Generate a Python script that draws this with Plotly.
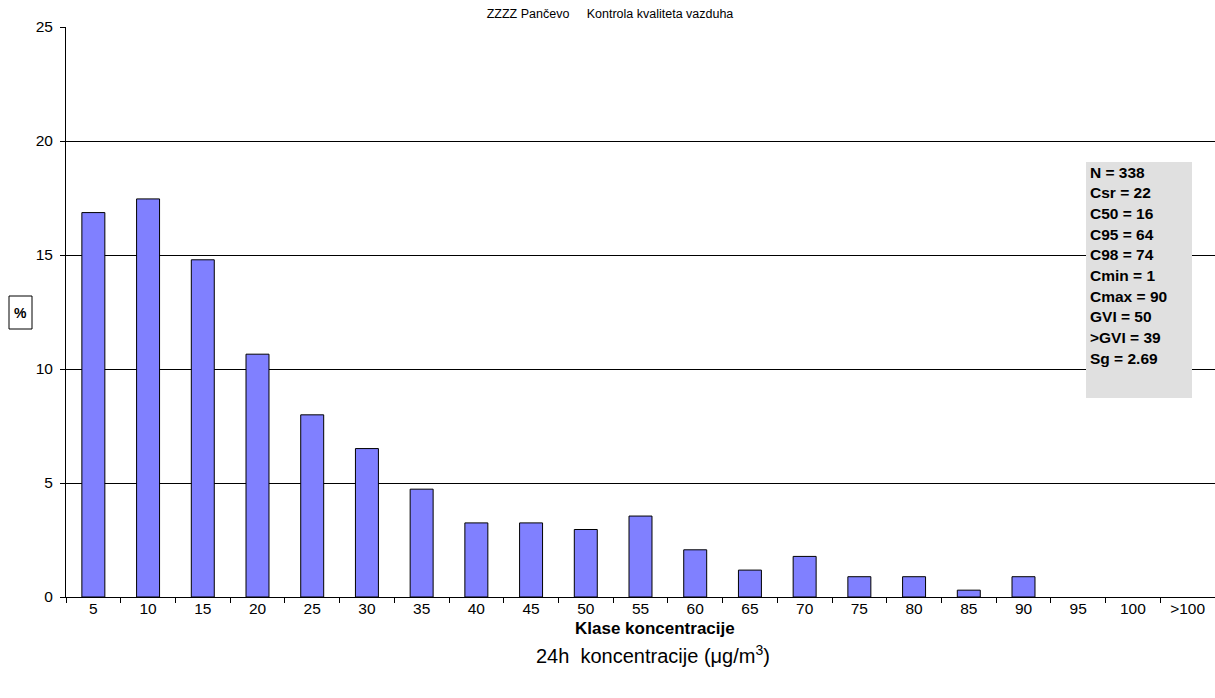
import plotly.graph_objects as go

categories = ["5", "10", "15", "20", "25", "30", "35", "40", "45", "50", "55",
              "60", "65", "70", "75", "80", "85", "90", "95", "100", ">100"]
percent = [16.86, 17.46, 14.79, 10.65, 7.99, 6.51, 4.73, 3.25, 3.25, 2.96, 3.55,
           2.07, 1.18, 1.78, 0.89, 0.89, 0.30, 0.89, 0, 0, 0]
stats_lines = ["N = 338", "Csr = 22", "C50 = 16", "C95 = 64", "C98 = 74",
               "Cmin = 1", "Cmax = 90", "GVI = 50", ">GVI = 39", "Sg = 2.69"]
title_text = "ZZZZ Pančevo     Kontrola kvaliteta vazduha"
y_ticks = [0, 5, 10, 15, 20, 25]

FONT = "Arial, Liberation Sans, sans-serif"
W, H = 1215, 698
L, R, T, B = 66, 0, 27, 101
PW = W - L - R
PH = H - T - B

def px_x(p):
    return (p - L) / PW

def px_y(p):
    return (H - B - p) / PH

line_widths = [1 if v > 0 else 0 for v in percent]

fig = go.Figure()
fig.add_trace(go.Bar(
    x=categories, y=percent,
    marker=dict(color="#8080FF", line=dict(color="black", width=line_widths)),
    width=0.42,
))

fig.update_layout(
    width=W, height=H,
    margin=dict(l=L, r=R, t=T, b=B),
    paper_bgcolor="white", plot_bgcolor="white",
    showlegend=False,
    font=dict(family=FONT, color="black", size=15),
    title=dict(text=title_text, x=610 / W, xanchor="center", y=1 - 14 / H,
               yanchor="middle", font=dict(size=12.5, family=FONT)),
)
fig.update_xaxes(
    type="category", showgrid=False, showline=True, linecolor="black", linewidth=1,
    ticks="outside", tickson="boundaries", ticklen=5, tickcolor="black",
    tickfont=dict(size=15.5), range=[-0.5, len(categories) - 0.5],
    ticklabelstandoff=-3,
)
fig.update_yaxes(
    range=[0, 25], tickvals=y_ticks, showgrid=True, gridcolor="black", gridwidth=1,
    showline=True, linecolor="black", linewidth=1, ticks="outside", ticklen=5,
    tickcolor="black", tickfont=dict(size=15.5), zeroline=False,
    ticklabelstandoff=4,
)

# stats box
fig.add_shape(type="rect", xref="paper", yref="paper",
              x0=px_x(1086), x1=px_x(1192), y0=px_y(398), y1=px_y(162),
              fillcolor="#E0E0E0", line=dict(width=0), layer="above")
for i, line in enumerate(stats_lines):
    fig.add_annotation(text="<b>" + line + "</b>", xref="paper", yref="paper",
                       x=px_x(1088), y=px_y(172 + i * 20.7), xanchor="left",
                       yanchor="middle", showarrow=False,
                       font=dict(size=15.5, family=FONT))

# y title box
fig.add_shape(type="rect", xref="paper", yref="paper",
              x0=px_x(9), x1=px_x(32), y0=px_y(329), y1=px_y(296),
              fillcolor="white", line=dict(color="black", width=1))
fig.add_annotation(text="<b>%</b>", xref="paper", yref="paper",
                   x=px_x(20.5), y=px_y(312.5), xanchor="center", yanchor="middle",
                   showarrow=False, font=dict(size=14, family=FONT))

# x titles
fig.add_annotation(text="<b>Klase koncentracije</b>", xref="paper", yref="paper",
                   x=px_x(655), y=px_y(628), xanchor="center", showarrow=False,
                   yanchor="middle", font=dict(size=17, family=FONT))
fig.add_annotation(text="24h  koncentracije (μg/m<sup>3</sup>)", xref="paper", yref="paper",
                   x=px_x(653), y=px_y(654), xanchor="center", showarrow=False,
                   yanchor="middle", font=dict(size=20, family=FONT))

fig.write_html("out.html", config={"displayModeBar": False},
               post_script="document.body.style.margin='0px';")
